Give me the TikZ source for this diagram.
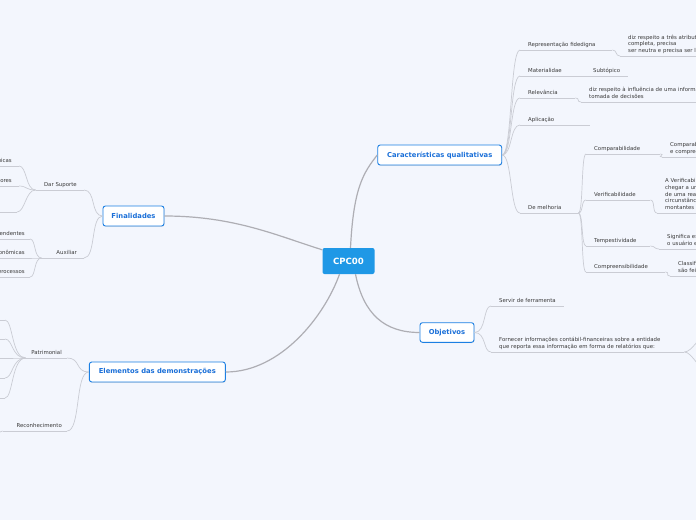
\documentclass[tikz,border=0pt]{standalone}
\usepackage{fontspec}
\setmainfont{DejaVu Sans}
\usepackage{tikz}
\usetikzlibrary{shadows}

\definecolor{bgblue}{HTML}{F3F6FD}
\definecolor{rootblue}{HTML}{1F98E6}
\definecolor{topicblue}{HTML}{1B7FE3}
\definecolor{topictext}{HTML}{1A6FD8}
\definecolor{leaftext}{HTML}{3A3A3A}
\definecolor{trunkgray}{HTML}{AEAEB4}
\definecolor{twiggray}{HTML}{CACCD4}

\newcommand{\leaffont}{\fontsize{5.4}{6.6}\selectfont\hyphenpenalty=10000\exhyphenpenalty=10000}

\begin{document}
\begin{tikzpicture}[x=1pt, y=-1pt]
        \tikzset{
          root/.style={fill=rootblue, text=white, font=\bfseries\fontsize{8.6}{10}\selectfont,
            rounded corners=2pt, minimum width=52pt, minimum height=26pt, inner sep=0pt},
          topic/.style={draw=topicblue, line width=0.9pt, fill=white, text=topictext,
            font=\bfseries\fontsize{6.8}{8}\selectfont, rounded corners=2.5pt,
            minimum height=20pt, inner sep=0pt,
            drop shadow={shadow xshift=0.5pt, shadow yshift=-0.8pt, opacity=0.2}},
          leaf/.style={anchor=south west, inner xsep=8pt, inner ysep=1.6pt,
            execute at end node={\strut}, align=left, text=leaftext, font=\leaffont},
          lleaf/.style={leaf, anchor=south east, align=right},
          trunk/.style={draw=trunkgray, line width=1.2pt},
          twig/.style={draw=twiggray, line width=0.7pt}
        }
        \useasboundingbox (0,0) rectangle (696,520);
        \fill[bgblue] (0,0) rectangle (696,520);
        \clip (0,0) rectangle (696,520);

        % centre and main topics
        \node[root] (cpc) at (348.5,261) {CPC00};
        \node[topic, minimum width=124pt] (cq) at (439.7,155) {Características qualitativas};
        \node[topic, minimum width=61pt] (fin) at (133.5,216) {Finalidades};
        \node[topic, minimum width=54pt, minimum height=19.6pt] (obj) at (447,332.5) {Objetivos};
        \node[topic, minimum width=136pt] (ele) at (157.3,372) {Elementos das demonstrações};

        % Caracteristicas qualitativas
        \node[leaf, text width=76pt] (rep) at (520,50) {Representação fidedigna};
        \node[leaf, text width=130pt] (repd) at (620,56) {diz respeito a três atributos\\completa, precisa\\ser neutra e precisa ser livre};
        \node[leaf, text width=49pt] (mat) at (520,76) {Materialidae};
        \node[leaf, text width=27pt] (sbt) at (585,76) {\mbox{Subtópico}};
        \node[leaf, text width=39pt] (rel) at (520,98) {Relevância};
        \node[leaf, text width=130pt] (reld) at (581,102) {diz respeito à influência de uma informação\\tomada de decisões};
        \node[leaf, text width=54pt] (apl) at (520,125) {Aplicação};
        \node[leaf, text width=42pt] (dm) at (520,213) {De melhoria};
        \node[leaf, text width=58pt] (cmp) at (586,154) {Comparabilidade};
        \node[leaf, text width=80pt] (cmpd) at (662,157) {Comparabilidade\\e compreender};
        \node[leaf, text width=48pt] (ver) at (586,200) {Verificabilidade};
        \node[leaf, text width=80pt] (verd) at (657,213) {A Verificabilidade\\chegar a um\\de uma realidade\\circunstâncias\\montantes};
        \node[leaf, text width=48pt] (tem) at (586,246) {Tempestividade};
        \node[leaf, text width=80pt] (temd) at (659,249) {Significa estar\\o usuário em};
        \node[leaf, text width=63pt] (cpr) at (586,272) {Compreensibilidade};
        \node[leaf, text width=80pt] (cprd) at (670,276) {Classificar\\são feitas};

        % Objetivos
        \node[leaf, text width=57pt] (sv) at (491,306) {\mbox{Servir de ferramenta}};
        \node[leaf, text width=177pt] (fo) at (491,352) {Fornecer informações contábil-financeiras sobre a entidade\\que reporta essa informação em forma de relatórios que:};
        \coordinate (fo1) at (708,334);
        \coordinate (fo2) at (708,372);

        % Finalidades
        \node[lleaf, inner xsep=7pt, text width=34pt] (ds) at (84,190) {Dar Suporte};
        \node[lleaf, inner xsep=7pt, text width=28pt] (aux) at (84,258) {Auxiliar};
        \node[lleaf, inner xsep=7pt, text width=40pt] (ds1) at (19,166) {nicas};
        \node[lleaf, inner xsep=7pt, text width=40pt] (ds2) at (19,186) {ores};
        \node[lleaf, inner xsep=7pt, text width=40pt] (ds3) at (17,212) {};
        \node[lleaf, inner xsep=5pt, text width=40pt] (ax1) at (30,239) {endentes};
        \node[lleaf, inner xsep=5pt, text width=40pt] (ax2) at (30,258) {onômicas};
        \node[lleaf, inner xsep=5pt, text width=40pt] (ax3) at (30,277) {erocessos};

        % Elementos das demonstracoes
        \node[lleaf, inner xsep=5pt, text width=31pt] (pat) at (67,358) {Patrimonial};
        \node[lleaf, inner xsep=5pt, text width=54pt] (rec) at (67,431) {Reconhecimento};
        \node[lleaf, inner xsep=3pt, text width=30pt] (pt1) at (5,320) {};
        \node[lleaf, inner xsep=3pt, text width=30pt] (pt2) at (5,339) {};
        \node[lleaf, inner xsep=3pt, text width=30pt] (pt3) at (12,358) {};
        \node[lleaf, inner xsep=3pt, text width=30pt] (pt4) at (5,378) {};
        \node[lleaf, inner xsep=3pt, text width=30pt] (pt5) at (5,398) {};
        \coordinate (rc1) at (-6,438);

        % underlines
        \foreach \n in {rep,repd,mat,sbt,rel,reld,apl,dm,cmp,cmpd,ver,verd,tem,temd,cpr,cprd,
                        sv,fo,ds,aux,ds1,ds2,ds3,ax1,ax2,ax3,pat,rec,pt1,pt2,pt3,pt4,pt5}
          \draw[twig] (\n.south west) -- (\n.south east);

        % branches from the centre
        \draw[trunk] ([xshift=2pt]cpc.north) .. controls +(3,-60) and +(-14,18) .. (cq.west);
        \draw[trunk] (fin.east) .. controls +(70,0) and +(-45,-14) .. ([yshift=-2pt]cpc.north west);
        \draw[trunk] (ele.east) .. controls +(55,0) and +(-15,42) .. ([xshift=-9pt]cpc.south);
        \draw[trunk] ([xshift=7pt]cpc.south) .. controls +(8,40) and +(-35,0) .. (obj.west);

        % twigs
        \foreach \n in {rep,mat,rel,apl,dm}
          \draw[twig] (cq.east) .. controls +(10,0) and +(-10,0) .. (\n.south west);
        \foreach \n in {cmp,ver,tem,cpr}
          \draw[twig] (dm.south east) .. controls +(5,0) and +(-5,0) .. (\n.south west);
        \foreach \a/\b in {rep/repd,rel/reld,cmp/cmpd,ver/verd,tem/temd,cpr/cprd}
          \draw[twig] (\a.south east) .. controls +(5,0) and +(-5,0) .. (\b.south west);
        \draw[twig] (mat.south east) -- (sbt.south west);
        \foreach \n in {sv,fo}
          \draw[twig] (obj.east) .. controls +(12,0) and +(-8,0) .. (\n.south west);
        \foreach \n in {fo1,fo2}
          \draw[twig] (fo.south east) .. controls +(8,0) and +(-8,0) .. (\n);
        \foreach \n in {ds,aux}
          \draw[twig] (fin.west) .. controls +(-12,0) and +(12,0) .. (\n.south east);
        \foreach \n in {ds1,ds2,ds3}
          \draw[twig] (ds.south west) .. controls +(-10,0) and +(8,0) .. (\n.south east);
        \foreach \n in {ax1,ax2,ax3}
          \draw[twig] (aux.south west) .. controls +(-8,0) and +(6,0) .. (\n.south east);
        \foreach \n in {pat,rec}
          \draw[twig] (ele.west) .. controls +(-14,0) and +(14,0) .. (\n.south east);
        \foreach \n in {pt1,pt2,pt3,pt4,pt5}
          \draw[twig] (pat.south west) .. controls +(-14,0) and +(8,0) .. (\n.south east);
        \draw[twig] (rec.south west) .. controls +(-5,0) and +(4,0) .. (rc1);
\end{tikzpicture}
\end{document}
